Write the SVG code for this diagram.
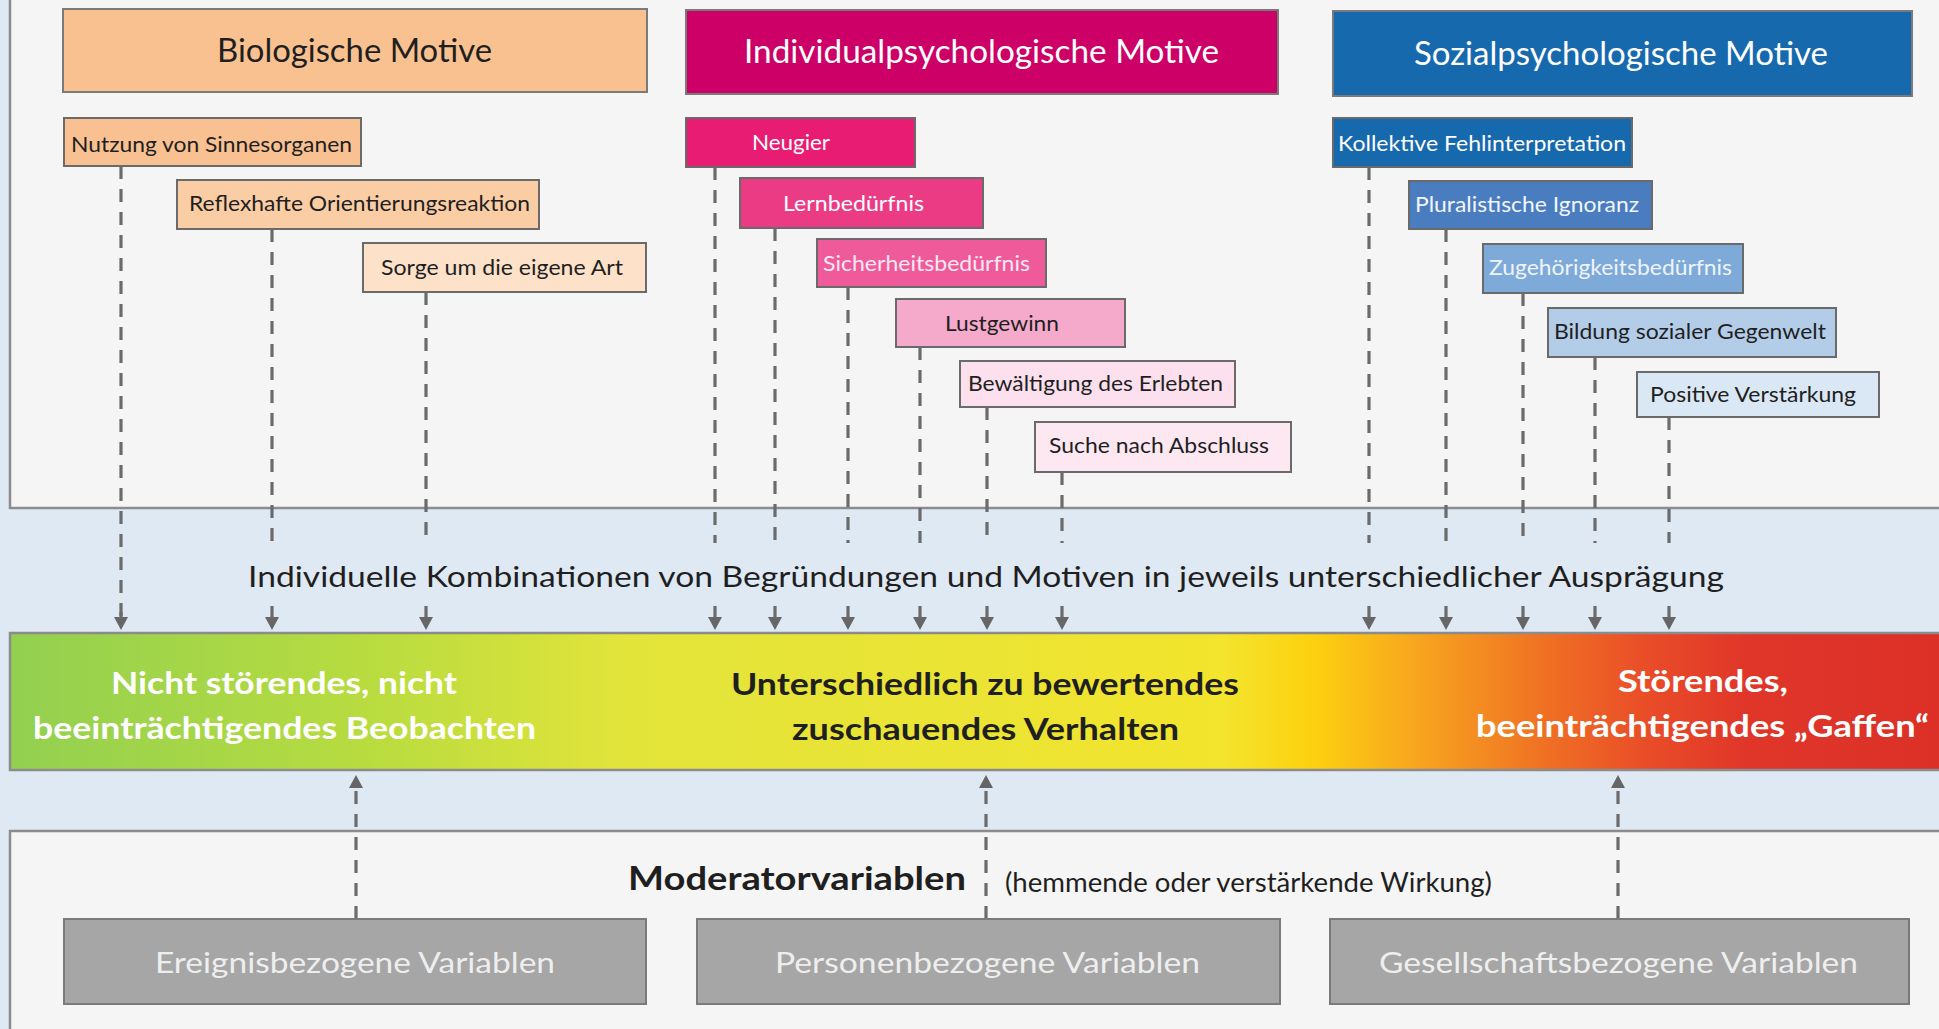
<svg xmlns="http://www.w3.org/2000/svg" width="1939" height="1029" viewBox="0 0 1939 1029">
<defs>
<style>
.t{font-family:Lato,"Open Sans","Liberation Sans",sans-serif;}
.hb{stroke:#7a7a7a;stroke-width:2;}
.sb{stroke:#6a6a6a;stroke-width:2;}
.gb{fill:#a6a6a6;stroke:#7a7a7a;stroke-width:2;}
.dash{fill:none;stroke:#6b6b6b;stroke-width:3.2;stroke-dasharray:13 10;}
.solid{fill:none;stroke:#6b6b6b;stroke-width:3.2;}
.h{font-size:32px;}
.s{font-size:22px;}
.dk{fill:#1f1f1f;}
.wh{fill:#ffffff;}
.bar{font-size:31px;font-weight:bold;}
.gt{font-size:29px;fill:#eeeeee;}
</style>
<marker id="ah" markerUnits="userSpaceOnUse" markerWidth="14" markerHeight="16" refX="0" refY="7" orient="auto" viewBox="0 0 14 14">
<path d="M0,0 L13,7 L0,14 z" fill="#666666"/>
</marker>
<linearGradient id="grad" gradientUnits="userSpaceOnUse" x1="10" y1="0" x2="1939" y2="0">
<stop offset="0" stop-color="#92d050"/>
<stop offset="0.19" stop-color="#b9dc3f"/>
<stop offset="0.32" stop-color="#e3e43a"/>
<stop offset="0.50" stop-color="#ebe434"/>
<stop offset="0.63" stop-color="#f3e42c"/>
<stop offset="0.675" stop-color="#fcd10f"/>
<stop offset="0.73" stop-color="#f7a51f"/>
<stop offset="0.80" stop-color="#ef6d24"/>
<stop offset="0.85" stop-color="#e94c28"/>
<stop offset="0.90" stop-color="#e0362a"/>
<stop offset="1" stop-color="#dc3026"/>
</linearGradient>
</defs>

<rect x="0" y="0" width="1939" height="1029" fill="#dfe9f4"/>
<g id="top-panel">
<rect x="10" y="-5" width="1940" height="513" fill="#f5f5f5" stroke="#8c8c8c" stroke-width="2.5"/>
</g>
<g id="bottom-panel">
<rect x="10" y="831" width="1940" height="210" fill="#f5f5f5" stroke="#8c8c8c" stroke-width="2.5"/>
</g>

<g id="connectors">
<path class="dash" d="M121,166 V617"/>
<path class="dash" d="M272,229 V543"/>
<path class="dash" d="M426,292 V543"/>
<path class="dash" d="M715,167 V543"/>
<path class="dash" d="M775,228 V543"/>
<path class="dash" d="M848,287 V543"/>
<path class="dash" d="M920,347 V543"/>
<path class="dash" d="M987,407 V543"/>
<path class="dash" d="M1062,472 V543"/>
<path class="dash" d="M1369,167 V543"/>
<path class="dash" d="M1446,229 V543"/>
<path class="dash" d="M1523,293 V543"/>
<path class="dash" d="M1595,357 V543"/>
<path class="dash" d="M1669,417 V543"/>
<path class="solid" d="M121,612 V617" marker-end="url(#ah)"/>
<path class="solid" d="M272,606 V617" marker-end="url(#ah)"/>
<path class="solid" d="M426,606 V617" marker-end="url(#ah)"/>
<path class="solid" d="M715,606 V617" marker-end="url(#ah)"/>
<path class="solid" d="M775,606 V617" marker-end="url(#ah)"/>
<path class="solid" d="M848,606 V617" marker-end="url(#ah)"/>
<path class="solid" d="M920,606 V617" marker-end="url(#ah)"/>
<path class="solid" d="M987,606 V617" marker-end="url(#ah)"/>
<path class="solid" d="M1062,606 V617" marker-end="url(#ah)"/>
<path class="solid" d="M1369,606 V617" marker-end="url(#ah)"/>
<path class="solid" d="M1446,606 V617" marker-end="url(#ah)"/>
<path class="solid" d="M1523,606 V617" marker-end="url(#ah)"/>
<path class="solid" d="M1595,606 V617" marker-end="url(#ah)"/>
<path class="solid" d="M1669,606 V617" marker-end="url(#ah)"/>
<path class="dash" d="M356,919 V788" marker-end="url(#ah)"/>
<path class="dash" d="M986,919 V788" marker-end="url(#ah)"/>
<path class="dash" d="M1618,919 V788" marker-end="url(#ah)"/>
</g>

<g id="bio-header"><rect class="hb" x="63" y="9" width="584" height="83" fill="#f9c18f"/><text class="t h dk" x="217" y="62" textLength="275" lengthAdjust="spacingAndGlyphs">Biologische Motive</text></g>
<g id="ind-header"><rect class="hb" x="686" y="10" width="592" height="84" fill="#cc0066"/><text class="t h wh" x="744" y="63" textLength="475" lengthAdjust="spacingAndGlyphs">Individualpsychologische Motive</text></g>
<g id="soz-header"><rect class="hb" x="1333" y="11" width="579" height="85" fill="#1769ae"/><text class="t h wh" x="1414" y="65" textLength="414" lengthAdjust="spacingAndGlyphs">Sozialpsychologische Motive</text></g>

<g id="nutzung"><rect class="sb" x="64" y="118" width="297" height="48" fill="#f9c191"/><text class="t s dk" x="71" y="152" textLength="281" lengthAdjust="spacingAndGlyphs">Nutzung von Sinnesorganen</text></g>
<g id="reflex"><rect class="sb" x="177" y="180" width="362" height="49" fill="#fbcda5"/><text class="t s dk" x="189" y="211" textLength="341" lengthAdjust="spacingAndGlyphs">Reflexhafte Orientierungsreaktion</text></g>
<g id="sorge"><rect class="sb" x="363" y="243" width="283" height="49" fill="#fde1c9"/><text class="t s dk" x="381" y="275" textLength="242" lengthAdjust="spacingAndGlyphs">Sorge um die eigene Art</text></g>

<g id="neugier"><rect class="sb" x="686" y="118" width="229" height="49" fill="#e81c72"/><text class="t s wh" x="752" y="150" textLength="78" lengthAdjust="spacingAndGlyphs">Neugier</text></g>
<g id="lern"><rect class="sb" x="740" y="178" width="243" height="50" fill="#ec3b85"/><text class="t s wh" x="783" y="211" textLength="141" lengthAdjust="spacingAndGlyphs">Lernbedürfnis</text></g>
<g id="sicher"><rect class="sb" x="817" y="239" width="229" height="48" fill="#ef5a9a"/><text class="t s" fill="#fde8f1" x="823" y="271" textLength="207" lengthAdjust="spacingAndGlyphs">Sicherheitsbedürfnis</text></g>
<g id="lust"><rect class="sb" x="896" y="299" width="229" height="48" fill="#f5aacc"/><text class="t s dk" x="945" y="331" textLength="114" lengthAdjust="spacingAndGlyphs">Lustgewinn</text></g>
<g id="bewaeltigung"><rect class="sb" x="960" y="361" width="275" height="46" fill="#fde0ee"/><text class="t s dk" x="968" y="391" textLength="255" lengthAdjust="spacingAndGlyphs">Bewältigung des Erlebten</text></g>
<g id="suche"><rect class="sb" x="1035" y="422" width="256" height="50" fill="#fde7f1"/><text class="t s dk" x="1049" y="453" textLength="220" lengthAdjust="spacingAndGlyphs">Suche nach Abschluss</text></g>

<g id="kollektiv"><rect class="sb" x="1333" y="118" width="299" height="49" fill="#1769ae"/><text class="t s wh" x="1338" y="151" textLength="288" lengthAdjust="spacingAndGlyphs">Kollektive Fehlinterpretation</text></g>
<g id="plural"><rect class="sb" x="1409" y="181" width="243" height="48" fill="#4a7dc0"/><text class="t s" fill="#f2f6fb" x="1415" y="212" textLength="224" lengthAdjust="spacingAndGlyphs">Pluralistische Ignoranz</text></g>
<g id="zugehoerigkeit"><rect class="sb" x="1483" y="244" width="260" height="49" fill="#7eaad9"/><text class="t s" fill="#eef4fb" x="1489" y="275" textLength="243" lengthAdjust="spacingAndGlyphs">Zugehörigkeitsbedürfnis</text></g>
<g id="bildung"><rect class="sb" x="1548" y="308" width="288" height="49" fill="#b3cde9"/><text class="t s dk" x="1554" y="339" textLength="272" lengthAdjust="spacingAndGlyphs">Bildung sozialer Gegenwelt</text></g>
<g id="positiv"><rect class="sb" x="1637" y="372" width="242" height="45" fill="#dae8f5"/><text class="t s dk" x="1650" y="402" textLength="206" lengthAdjust="spacingAndGlyphs">Positive Verstärkung</text></g>

<g id="kombination"><text class="t dk" font-size="29" x="248" y="587" textLength="1476" lengthAdjust="spacingAndGlyphs">Individuelle Kombinationen von Begründungen und Motiven in jeweils unterschiedlicher Ausprägung</text></g>

<g id="verhalten-skala">
<rect x="10" y="633" width="1940" height="137" fill="url(#grad)" stroke="#8c8c8c" stroke-width="2.5"/>
<text class="t bar wh" x="111" y="694" textLength="346" lengthAdjust="spacingAndGlyphs">Nicht störendes, nicht</text>
<text class="t bar wh" x="33" y="739" textLength="503" lengthAdjust="spacingAndGlyphs">beeinträchtigendes Beobachten</text>
<text class="t bar dk" x="731" y="695" textLength="508" lengthAdjust="spacingAndGlyphs">Unterschiedlich zu bewertendes</text>
<text class="t bar dk" x="792" y="740" textLength="387" lengthAdjust="spacingAndGlyphs">zuschauendes Verhalten</text>
<text class="t bar wh" x="1618" y="692" textLength="170" lengthAdjust="spacingAndGlyphs">Störendes,</text>
<text class="t bar wh" x="1476" y="737" textLength="453" lengthAdjust="spacingAndGlyphs">beeinträchtigendes „Gaffen“</text>
</g>

<g id="moderator">
<text class="t dk" font-size="33" font-weight="bold" x="628" y="890" textLength="338" lengthAdjust="spacingAndGlyphs">Moderatorvariablen</text>
<text class="t dk" font-size="26" x="1005" y="892" textLength="487" lengthAdjust="spacingAndGlyphs">(hemmende oder verstärkende Wirkung)</text>
</g>

<g id="ereignis"><rect class="gb" x="64" y="919" width="582" height="85"/><text class="t gt" x="155" y="973" textLength="400" lengthAdjust="spacingAndGlyphs">Ereignisbezogene Variablen</text></g>
<g id="person"><rect class="gb" x="697" y="919" width="583" height="85"/><text class="t gt" x="775" y="973" textLength="425" lengthAdjust="spacingAndGlyphs">Personenbezogene Variablen</text></g>
<g id="gesellschaft"><rect class="gb" x="1330" y="919" width="579" height="85"/><text class="t gt" x="1379" y="973" textLength="479" lengthAdjust="spacingAndGlyphs">Gesellschaftsbezogene Variablen</text></g>
</svg>
